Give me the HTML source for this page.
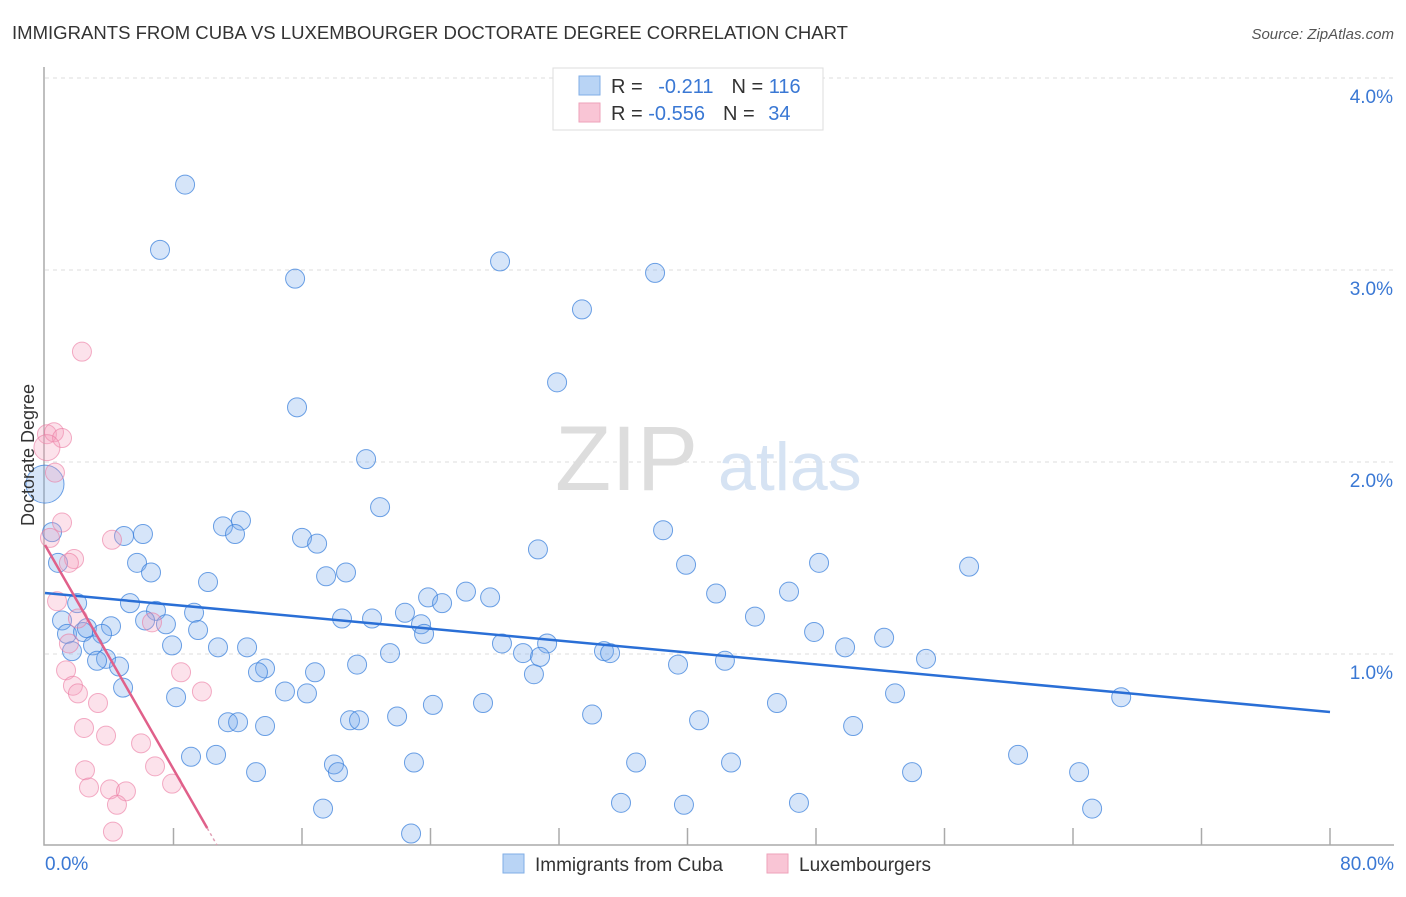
<!DOCTYPE html>
<html><head><meta charset="utf-8"><style>
body{margin:0;background:#fff;font-family:"Liberation Sans",sans-serif;}
svg text{font-family:"Liberation Sans",sans-serif;}
</style></head><body>
<svg id="chart" width="1406" height="892" viewBox="0 0 1406 892" xmlns="http://www.w3.org/2000/svg">
<text x="12" y="39" font-size="18" fill="#333" textLength="836" lengthAdjust="spacingAndGlyphs">IMMIGRANTS FROM CUBA VS LUXEMBOURGER DOCTORATE DEGREE CORRELATION CHART</text>
<text x="1394" y="39" font-size="15" fill="#555" font-style="italic" text-anchor="end">Source: ZipAtlas.com</text>
<g id="grid"></g>
<text x="555" y="490" font-size="92" fill="#ddd" font-family="Liberation Serif,serif">ZIP</text>
<text x="718" y="490" font-size="68" fill="#d6e3f3">atlas</text>
<g id="marks"></g>
<text transform="translate(34,455) rotate(-90)" font-size="18" fill="#333" text-anchor="middle">Doctorate Degree</text>
<g>
<rect x="553" y="68" width="270" height="62" fill="#fff" stroke="#ddd"/>
<rect x="579" y="76" width="21" height="19" fill="#b9d4f5" stroke="#80aee6"/>
<rect x="579" y="103" width="21" height="19" fill="#f9c5d5" stroke="#eea2ba"/>
<text x="611" y="93" font-size="20" fill="#333">R = <tspan fill="#3a78d4" dx="10">-0.211</tspan><tspan dx="18" fill="#333">N = </tspan><tspan fill="#3a78d4">116</tspan></text>
<text x="611" y="120" font-size="20" fill="#333">R = <tspan fill="#3a78d4">-0.556</tspan><tspan dx="18" fill="#333">N = </tspan><tspan fill="#3a78d4" dx="8">34</tspan></text>
</g>
<g>
<rect x="503" y="854" width="21" height="19" fill="#b9d4f5" stroke="#80aee6"/>
<text x="535" y="871" font-size="19" fill="#333">Immigrants from Cuba</text>
<rect x="767" y="854" width="21" height="19" fill="#f9c5d5" stroke="#eea2ba"/>
<text x="799" y="871" font-size="19" fill="#333">Luxembourgers</text>
</g>
</svg>
<script>
const yTicks=[1,2,3,4];
const yTickLabels=["1.0%","2.0%","3.0%","4.0%"];
const xTicks=[0,8,16,24,32,40,48,56,64,72,80];
const cubaX=[8.72,7.16,15.57,28.33,37.98,33.43,31.88,15.69,19.99,20.86,12.2,11.08,11.83,6.1,4.92,0.44,16,16.94,30.69,38.48,0.81,5.73,6.6,10.15,17.5,18.74,39.91,48.19,57.53,26.21,27.71,23.85,24.72,41.78,46.32,5.29,6.91,9.28,22.41,23.41,18.49,20.36,44.2,2,1.06,6.23,7.53,1.37,2.37,2.61,4.11,3.55,9.53,23.6,47.88,52.24,2.99,1.68,7.91,10.77,12.58,28.45,31.26,29.76,30.82,21.48,34.8,35.18,49.81,54.85,3.8,3.24,4.61,19.43,39.41,42.33,13.7,13.26,16.81,30.44,4.86,14.94,16.31,8.16,52.92,67,24.15,27.27,45.57,34.06,21.92,11.39,12.02,18.99,19.55,40.72,13.7,50.31,9.09,10.65,60.58,17.99,18.24,22.97,36.8,42.71,13.14,53.98,64.38,35.86,39.78,46.94,17.31,65.19,22.79,0];
const cubaY=[3.45,3.11,2.96,3.05,2.99,2.8,2.42,2.29,2.02,1.77,1.7,1.67,1.63,1.63,1.62,1.64,1.61,1.58,1.55,1.65,1.48,1.48,1.43,1.38,1.41,1.43,1.47,1.48,1.46,1.33,1.3,1.3,1.27,1.32,1.33,1.27,1.23,1.22,1.22,1.16,1.19,1.19,1.2,1.27,1.18,1.18,1.16,1.11,1.12,1.14,1.15,1.11,1.13,1.11,1.12,1.09,1.05,1.02,1.05,1.04,1.04,1.06,1.06,1.01,0.99,1.01,1.02,1.01,1.04,0.98,0.98,0.97,0.94,0.95,0.95,0.97,0.93,0.91,0.91,0.9,0.83,0.81,0.8,0.78,0.8,0.78,0.74,0.75,0.75,0.69,0.68,0.65,0.65,0.66,0.66,0.66,0.63,0.63,0.47,0.48,0.48,0.43,0.39,0.44,0.44,0.44,0.39,0.39,0.39,0.23,0.22,0.23,0.2,0.2,0.07,1.89];
const luxX=[2.3,0.12,0.56,1.06,0.12,0.62,1.06,0.31,4.17,1.81,1.49,0.75,2.05,6.66,1.49,1.31,8.47,1.74,2.05,3.3,9.77,2.43,3.8,5.98,2.49,6.85,2.74,4.05,5.04,7.91,4.48,4.23];
const luxY=[2.58,2.15,2.16,2.13,2.08,1.95,1.69,1.61,1.6,1.5,1.48,1.28,1.19,1.17,1.06,0.92,0.91,0.84,0.8,0.75,0.81,0.62,0.58,0.54,0.4,0.42,0.31,0.3,0.29,0.33,0.22,0.08];
const cubaTrend=[1.323,-0.00775];
const luxTrend=[1.573,-0.146];
const X0=45,X1=1330,Y0=847,PX=192;
const sx=v=>X0+v/80*(X1-X0);
const sy=v=>Y0-v*PX;
const NS="http://www.w3.org/2000/svg";
function mk(tag,attrs,parent){const e=document.createElementNS(NS,tag);for(const k in attrs)e.setAttribute(k,attrs[k]);parent.appendChild(e);return e;}
const grid=document.getElementById('grid'),marks=document.getElementById('marks');
yTicks.forEach((t,i)=>{
 const l=mk('line',{x1:45,x2:1394,y1:sy(t)-1,y2:sy(t)-1,stroke:'#ddd','stroke-dasharray':'4,4'},grid);
 
 
 const tx=mk('text',{x:1393,y:sy(t)+24,'font-size':19,fill:'#3a78d4','text-anchor':'end'},grid);
 tx.textContent=yTickLabels[i];
 
 
});
const ax=mk('path',{d:'M44,67 V845 H1394',stroke:'#aaa',fill:'none','stroke-width':1.5},grid);


xTicks.forEach(t=>{
 if(t===0)return;
 const l=mk('line',{x1:sx(t),x2:sx(t),y1:828,y2:845,stroke:'#aaa','stroke-width':1.5},grid);
 
 
});
const xl0=mk('text',{x:45,y:870,'font-size':19,fill:'#3a78d4'},grid);xl0.textContent='0.0%';


const xl1=mk('text',{x:1394,y:870,'font-size':19,fill:'#3a78d4','text-anchor':'end'},grid);xl1.textContent='80.0%';


cubaX.forEach((x,i)=>{
 const big=(i===cubaX.length-1);
 const c=mk('circle',{cx:sx(x),cy:sy(cubaY[i]),r:big?19:9.5,fill:'rgba(120,170,235,0.3)',stroke:'rgba(60,130,220,0.75)','stroke-width':1},marks);
 
 
});
luxX.forEach((x,i)=>{
 const c=mk('circle',{cx:sx(x),cy:sy(luxY[i]),r:i===4?13:9.5,fill:'rgba(245,160,190,0.3)',stroke:'rgba(235,120,160,0.6)','stroke-width':1},marks);
 
 
});
const bt=mk('line',{x1:sx(0),y1:sy(cubaTrend[0]),x2:sx(80),y2:sy(cubaTrend[0]+cubaTrend[1]*80),stroke:'#2a6fd6','stroke-width':2.5},marks);


const xe=10.1;
const pt=mk('line',{x1:sx(0),y1:sy(luxTrend[0]),x2:sx(xe),y2:sy(luxTrend[0]+luxTrend[1]*xe),stroke:'#e0608a','stroke-width':2.5},marks);


const pd=mk('line',{x1:sx(xe),y1:sy(luxTrend[0]+luxTrend[1]*xe),x2:sx(10.7),y2:sy(luxTrend[0]+luxTrend[1]*10.7),stroke:'#e0a0b5','stroke-width':1.5,'stroke-dasharray':'3,3'},marks);


</script>
</body></html>
